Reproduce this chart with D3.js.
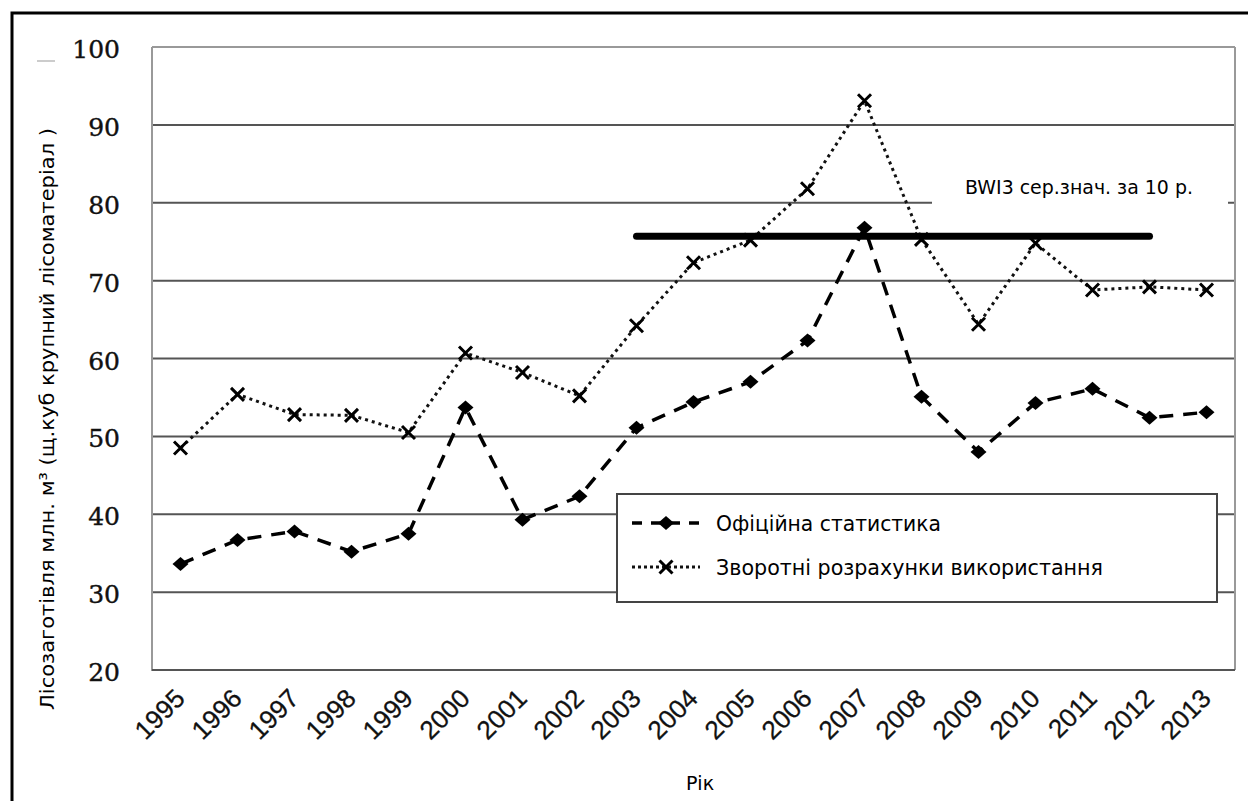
<!DOCTYPE html>
<html>
<head>
<meta charset="utf-8">
<script src="https://cdn.jsdelivr.net/npm/d3@7"></script>
<style>
  body { margin: 0; background: #fff; }
  svg { display: block; }
</style>
</head>
<body>
<div id="chart"></div>
<script>
// data
var years = [1995, 1996, 1997, 1998, 1999, 2000, 2001, 2002, 2003, 2004,
             2005, 2006, 2007, 2008, 2009, 2010, 2011, 2012, 2013];
var official = [33.6, 36.7, 37.8, 35.2, 37.5, 53.7, 39.3, 42.3, 51.1, 54.4,
                57.0, 62.3, 76.8, 55.1, 48.0, 54.3, 56.1, 52.4, 53.1];
var reverse = [48.5, 55.4, 52.8, 52.7, 50.5, 60.7, 58.2, 55.2, 64.2, 72.3,
               75.2, 81.8, 93.1, 75.3, 64.4, 74.8, 68.8, 69.2, 68.8];
var bwiYears = [2003, 2012];
var bwiValue = 75.7;
var yTicks = [20, 30, 40, 50, 60, 70, 80, 90, 100];

var seriesNames = ["Офіційна статистика", "Зворотні розрахунки використання"];
var bwiLabel = "BWI3 сер.знач. за 10 р.";
var yTitle = "Лісозаготівля млн. м³ (щ.куб крупний лісоматеріал )";
var xTitle = "Рік";

var W = 1248, H = 801;
var plot = {left: 152, right: 1235, top: 47, bottom: 670};

var svg = d3.select("#chart").append("svg")
    .attr("width", W)
    .attr("height", H);

// outer frame (right and bottom edges fall outside the picture)
svg.append("rect")
    .attr("x", 12).attr("y", 13)
    .attr("width", 1260).attr("height", 820)
    .attr("fill", "none")
    .attr("stroke", "#000")
    .attr("stroke-width", 3);

var x = d3.scalePoint()
    .domain(years)
    .range([plot.left, plot.right])
    .padding(0.5);
var y = d3.scaleLinear()
    .domain([20, 100])
    .range([plot.bottom, plot.top]);

// grid lines
svg.append("g")
    .selectAll("line")
    .data(yTicks.filter(function(d) { return d > 20 && d < 100; }))
    .enter().append("line")
    .attr("x1", plot.left).attr("x2", plot.right)
    .attr("y1", function(d) { return y(d); })
    .attr("y2", function(d) { return y(d); })
    .attr("stroke", "#555")
    .attr("stroke-width", 2);

// plot frame
svg.append("line")
    .attr("x1", plot.left).attr("x2", plot.right)
    .attr("y1", y(100)).attr("y2", y(100))
    .attr("stroke", "#999").attr("stroke-width", 2);
svg.append("line")
    .attr("x1", plot.right).attr("x2", plot.right)
    .attr("y1", y(100)).attr("y2", y(20))
    .attr("stroke", "#999").attr("stroke-width", 2);
svg.append("line")
    .attr("x1", plot.left).attr("x2", plot.left)
    .attr("y1", y(100)).attr("y2", y(20) + 1)
    .attr("stroke", "#999").attr("stroke-width", 2);
svg.append("line")
    .attr("x1", plot.left).attr("x2", plot.right)
    .attr("y1", y(20)).attr("y2", y(20))
    .attr("stroke", "#555").attr("stroke-width", 2);

// small stray mark left of the top label
svg.append("line")
    .attr("x1", 37).attr("x2", 55)
    .attr("y1", 61).attr("y2", 61)
    .attr("stroke", "#bbb").attr("stroke-width", 1.5);

// y axis labels
svg.append("g")
    .selectAll("text")
    .data(yTicks)
    .enter().append("text")
    .attr("x", 120)
    .attr("y", function(d) { return y(d) + 2; })
    .attr("dy", "0.36em")
    .attr("text-anchor", "end")
    .attr("font-family", "'DejaVu Serif', serif")
    .attr("font-size", 25)
    .attr("fill", "#111")
    .attr("stroke", "#111")
    .attr("stroke-width", 0.4)
    .text(function(d) { return d; });

// x axis labels
svg.append("g")
    .selectAll("text")
    .data(years)
    .enter().append("text")
    .attr("transform", function(d) {
        return "translate(" + (x(d) + 6) + ",700) rotate(-45)";
    })
    .attr("text-anchor", "end")
    .attr("font-family", "'Liberation Sans', Arial, sans-serif")
    .attr("font-size", 26)
    .attr("fill", "#111")
    .attr("stroke", "#111")
    .attr("stroke-width", 0.3)
    .text(function(d) { return d; });

// axis titles
svg.append("text")
    .attr("transform", "translate(54,419) rotate(-90)")
    .attr("text-anchor", "middle")
    .attr("font-family", "'DejaVu Sans', sans-serif")
    .attr("font-size", 20)
    .attr("textLength", 582)
    .attr("lengthAdjust", "spacingAndGlyphs")
    .attr("fill", "#000")
    .text(yTitle);

svg.append("text")
    .attr("x", 700).attr("y", 790)
    .attr("text-anchor", "middle")
    .attr("font-family", "'DejaVu Sans', sans-serif")
    .attr("font-size", 19)
    .attr("fill", "#000")
    .text(xTitle);

// BWI label with white backing that cuts the 80 grid line
svg.append("rect")
    .attr("x", 932).attr("y", 168)
    .attr("width", 296).attr("height", 38)
    .attr("fill", "#fff");
svg.append("text")
    .attr("x", 965).attr("y", 194)
    .attr("font-family", "'DejaVu Sans', sans-serif")
    .attr("font-size", 20)
    .attr("textLength", 228)
    .attr("lengthAdjust", "spacingAndGlyphs")
    .attr("fill", "#000")
    .text(bwiLabel);

// series lines
var line = d3.line()
    .x(function(d, i) { return x(years[i]); })
    .y(function(d) { return y(d); });

svg.append("path")
    .datum(official)
    .attr("d", line)
    .attr("fill", "none")
    .attr("stroke", "#000")
    .attr("stroke-width", 3.5)
    .attr("stroke-dasharray", "14,10");

svg.append("path")
    .datum(reverse)
    .attr("d", line)
    .attr("fill", "none")
    .attr("stroke", "#111")
    .attr("stroke-width", 3)
    .attr("stroke-dasharray", "3,4");

// BWI mean line
svg.append("line")
    .attr("x1", x(bwiYears[0])).attr("x2", x(bwiYears[1]))
    .attr("y1", y(bwiValue)).attr("y2", y(bwiValue))
    .attr("stroke", "#000")
    .attr("stroke-width", 7)
    .attr("stroke-linecap", "round");

// markers
function diamond(cx, cy) {
    return "M" + cx + "," + (cy - 7) + "L" + (cx + 8) + "," + cy +
           "L" + cx + "," + (cy + 7) + "L" + (cx - 8) + "," + cy + "Z";
}
function cross(cx, cy) {
    var s = 6.5;
    return "M" + (cx - s) + "," + (cy - s) + "L" + (cx + s) + "," + (cy + s) +
           "M" + (cx - s) + "," + (cy + s) + "L" + (cx + s) + "," + (cy - s);
}

svg.append("g")
    .selectAll("path")
    .data(official)
    .enter().append("path")
    .attr("d", function(d, i) { return diamond(x(years[i]), y(d)); })
    .attr("fill", "#000");

svg.append("g")
    .selectAll("path")
    .data(reverse)
    .enter().append("path")
    .attr("d", function(d, i) { return cross(x(years[i]), y(d)); })
    .attr("fill", "none")
    .attr("stroke", "#000")
    .attr("stroke-width", 3);

// legend
var legend = svg.append("g");
legend.append("rect")
    .attr("x", 617).attr("y", 494)
    .attr("width", 600).attr("height", 108)
    .attr("fill", "#fff")
    .attr("stroke", "#444")
    .attr("stroke-width", 2);

var rows = [523, 567];
legend.append("line")
    .attr("x1", 632).attr("x2", 700)
    .attr("y1", rows[0]).attr("y2", rows[0])
    .attr("stroke", "#000").attr("stroke-width", 3.5)
    .attr("stroke-dasharray", "10,9");
legend.append("path")
    .attr("d", diamond(666, rows[0]))
    .attr("fill", "#000");
legend.append("line")
    .attr("x1", 632).attr("x2", 700)
    .attr("y1", rows[1]).attr("y2", rows[1])
    .attr("stroke", "#111").attr("stroke-width", 3)
    .attr("stroke-dasharray", "3,3");
legend.append("path")
    .attr("d", cross(666, rows[1]))
    .attr("fill", "none")
    .attr("stroke", "#000").attr("stroke-width", 3);

legend.selectAll("text.lg")
    .data(seriesNames)
    .enter().append("text")
    .attr("class", "lg")
    .attr("x", 716)
    .attr("y", function(d, i) { return rows[i] + 8; })
    .attr("font-family", "'DejaVu Sans', sans-serif")
    .attr("font-size", 21)
    .attr("textLength", function(d, i) { return i === 0 ? 225 : 387; })
    .attr("lengthAdjust", "spacingAndGlyphs")
    .attr("fill", "#000")
    .text(function(d) { return d; });
</script>
</body>
</html>
